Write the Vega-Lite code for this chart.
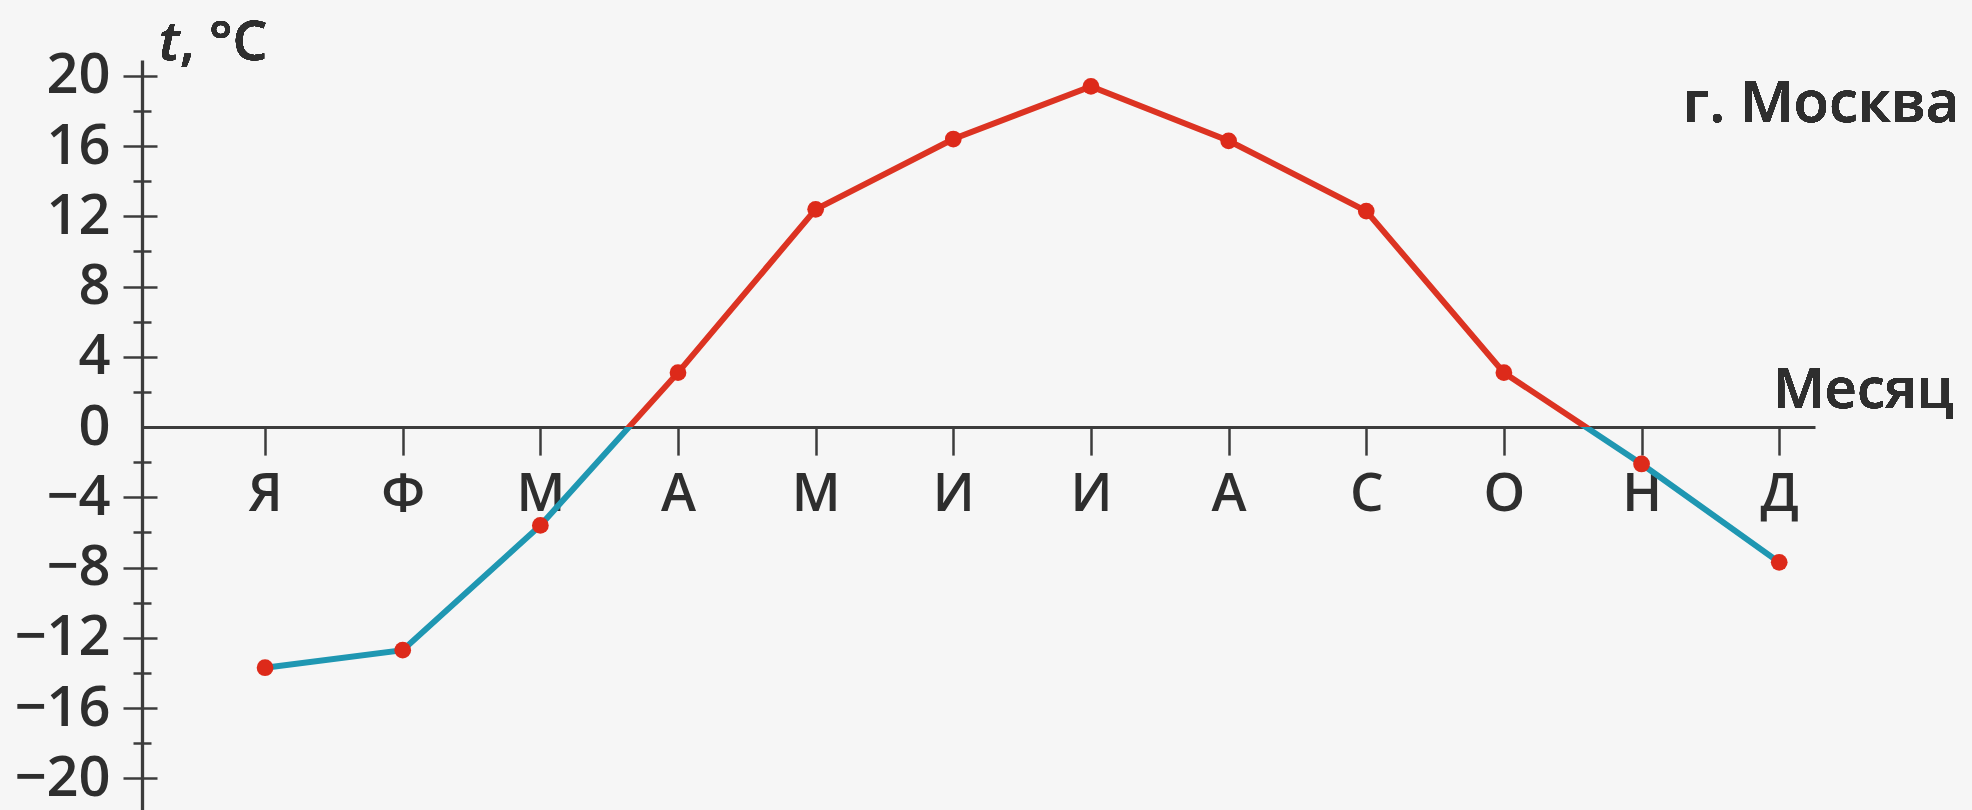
{
  "$schema": "https://vega.github.io/schema/vega-lite/v6.json",
  "width": 1673,
  "height": 750,
  "autosize": {"type": "none"},
  "padding": {"left": 142, "top": 60, "right": 157, "bottom": 0},
  "background": "#f6f6f6",
  "config": {
    "view": {"stroke": null},
    "font": "Open Sans",
    "text": {"font": "Open Sans", "fontWeight": 600, "color": "#2e2e2e"}
  },
  "data": {
    "values": [
      {"month": "Я", "i": 0, "t": -13.7},
      {"month": "Ф", "i": 1, "t": -12.7},
      {"month": "М", "i": 2, "t": -5.6},
      {"month": "А", "i": 3, "t": 3.1},
      {"month": "М", "i": 4, "t": 12.4},
      {"month": "И", "i": 5, "t": 16.4},
      {"month": "И", "i": 6, "t": 19.4},
      {"month": "А", "i": 7, "t": 16.3},
      {"month": "С", "i": 8, "t": 12.3},
      {"month": "О", "i": 9, "t": 3.1},
      {"month": "Н", "i": 10, "t": -2.1},
      {"month": "Д", "i": 11, "t": -7.7}
    ]
  },
  "layer": [
    {
      "mark": {
        "type": "line",
        "strokeWidth": 6,
        "stroke": {
          "gradient": "linear",
          "x1": 0, "y1": 0, "x2": 0, "y2": 1,
          "stops": [
            {"offset": 0, "color": "#dc3322"},
            {"offset": 0.586, "color": "#dc3322"},
            {"offset": 0.586, "color": "#1f97b2"},
            {"offset": 1, "color": "#1f97b2"}
          ]
        }
      },
      "encoding": {
        "x": {
          "field": "i",
          "type": "quantitative",
          "scale": {"domain": [-0.894, 11.26], "nice": false, "zero": false},
          "axis": {
            "orient": "bottom",
            "offset": -382.9,
            "values": [0, 1, 2, 3, 4, 5, 6, 7, 8, 9, 10, 11],
            "labelExpr": "['Я','Ф','М','А','М','И','И','А','С','О','Н','Д'][datum.value]",
            "title": null,
            "grid": false,
            "domainColor": "#3c3c3c",
            "domainWidth": 3,
            "tickColor": "#3c3c3c",
            "tickWidth": 2.5,
            "tickSize": 28,
            "labelFont": "Open Sans",
            "labelFontSize": 53,
            "labelFontWeight": 600,
            "labelColor": "#2e2e2e",
            "labelPadding": 13,
            "labelFlush": false,
            "labelOverlap": false
          }
        },
        "y": {
          "field": "t",
          "type": "quantitative",
          "scale": {"domain": [-21.8, 20.9], "nice": false, "zero": false},
          "axis": {
            "orient": "left",
            "values": [-20, -16, -12, -8, -4, 0, 4, 8, 12, 16, 20],
            "ticks": false,
            "grid": false,
            "domain": true,
            "domainColor": "#3c3c3c",
            "domainWidth": 3.3,
            "labelFont": "Open Sans",
            "labelFontSize": 56,
            "labelFontWeight": 600,
            "labelColor": "#2e2e2e",
            "labelPadding": 32,
            "labelFlush": false,
            "labelOverlap": false,
            "title": null
          }
        }
      }
    },
    {
      "mark": {"type": "point", "filled": true, "color": "#dd2a1a", "size": 280, "opacity": 1},
      "encoding": {
        "x": {
          "field": "i",
          "type": "quantitative",
          "scale": {"domain": [-0.894, 11.26], "nice": false, "zero": false}
        },
        "y": {
          "field": "t",
          "type": "quantitative",
          "scale": {"domain": [-21.8, 20.9], "nice": false, "zero": false},
          "axis": {
            "orient": "left",
            "values": [-20, -16, -12, -8, -4, 4, 8, 12, 16, 20],
            "offset": -15,
            "tickSize": 34,
            "tickWidth": 2.5,
            "tickColor": "#3c3c3c",
            "labels": false,
            "domain": false,
            "grid": false,
            "title": null
          }
        }
      }
    },
    {
      "mark": {"type": "text", "text": "t", "fontStyle": "italic", "fontSize": 55, "align": "left", "baseline": "alphabetic"},
      "encoding": {
        "x": {"datum": -0.77, "type": "quantitative", "scale": {"domain": [-0.894, 11.26], "nice": false, "zero": false}},
        "y": {
          "datum": 20.9,
          "type": "quantitative",
          "scale": {"domain": [-21.8, 20.9], "nice": false, "zero": false},
          "axis": {
            "orient": "left",
            "values": [-18, -14, -10, -6, -2, 2, 6, 10, 14, 18],
            "offset": -9,
            "tickSize": 18,
            "tickWidth": 2.5,
            "tickColor": "#3c3c3c",
            "labels": false,
            "domain": false,
            "grid": false,
            "title": null
          }
        }
      }
    },
    {
      "mark": {"type": "text", "text": ", °C", "fontSize": 55, "align": "left", "baseline": "alphabetic"},
      "encoding": {
        "x": {"datum": -0.62, "type": "quantitative", "scale": {"domain": [-0.894, 11.26], "nice": false, "zero": false}},
        "y": {"datum": 20.9, "type": "quantitative", "scale": {"domain": [-21.8, 20.9], "nice": false, "zero": false}, "axis": null}
      }
    },
    {
      "mark": {"type": "text", "text": "г. Москва", "fontSize": 58, "align": "left", "baseline": "alphabetic"},
      "encoding": {
        "x": {"datum": 10.3, "type": "quantitative", "scale": {"domain": [-0.894, 11.26], "nice": false, "zero": false}},
        "y": {"datum": 17.38, "type": "quantitative", "scale": {"domain": [-21.8, 20.9], "nice": false, "zero": false}, "axis": null}
      }
    },
    {
      "mark": {"type": "text", "text": "Месяц", "fontSize": 56, "align": "left", "baseline": "alphabetic"},
      "encoding": {
        "x": {"datum": 10.955, "type": "quantitative", "scale": {"domain": [-0.894, 11.26], "nice": false, "zero": false}},
        "y": {"datum": 1.08, "type": "quantitative", "scale": {"domain": [-21.8, 20.9], "nice": false, "zero": false}, "axis": null}
      }
    }
  ],
  "resolve": {"axis": {"y": "independent"}}
}
